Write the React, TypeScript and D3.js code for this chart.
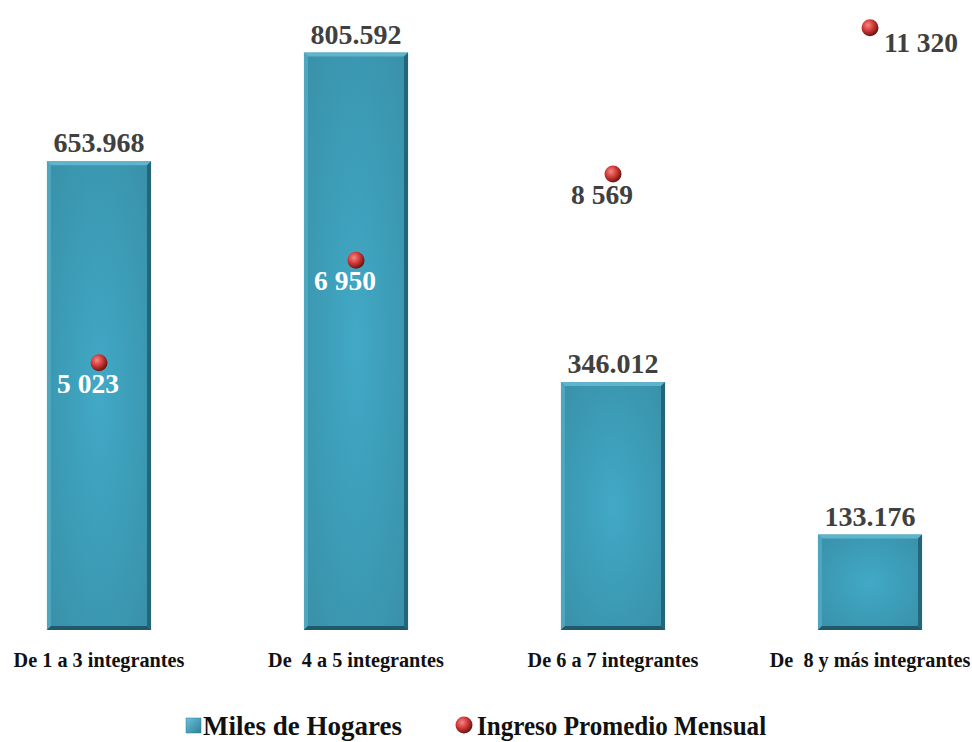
import React from "react";
import * as d3 from "d3";

const categories = ["De 1 a 3 integrantes", "De  4 a 5 integrantes", "De 6 a 7 integrantes", "De  8 y más integrantes"];
const hogares = [653.968, 805.592, 346.012, 133.176];
const hogaresLabels = ["653.968", "805.592", "346.012", "133.176"];
const ingreso = [5023, 6950, 8569, 11320];
const ingresoLabels = ["5 023", "6 950", "8 569", "11 320"];
const seriesNames = ["Miles de Hogares", "Ingreso Promedio Mensual"];

const W = 972;
const H = 742;
const font = "'Liberation Serif', 'Times New Roman', serif";

export default function App() {
  const x = d3
    .scaleBand<string>()
    .domain(categories)
    .range([-29.5, 998.5])
    .paddingInner(0.595)
    .paddingOuter(0.2975);
  const y = d3.scaleLinear().domain([0, 879]).range([630, 0]);
  const y2 = d3.scaleLinear().domain([0, 11840]).range([630, 0]);
  const bw = x.bandwidth();
  const bev = 4;

  return (
    <svg
      width={W}
      height={H}
      style={{ position: "absolute", left: 0, top: 0, background: "#fff" }}
      fontFamily={font}
    >
      <defs>
        <radialGradient id="barBody" cx="0.5" cy="0.5" r="0.7">
          <stop offset="0" stopColor="#41a9c6" />
          <stop offset="1" stopColor="#3990a8" />
        </radialGradient>
        <radialGradient id="sphere" cx="0.38" cy="0.35" r="0.65">
          <stop offset="0" stopColor="#f08a8a" />
          <stop offset="0.45" stopColor="#d9423f" />
          <stop offset="0.85" stopColor="#8e1f1d" />
          <stop offset="1" stopColor="#6a1312" />
        </radialGradient>
        <linearGradient id="legSq" x1="0" y1="0" x2="1" y2="1">
          <stop offset="0" stopColor="#6cc3dc" />
          <stop offset="1" stopColor="#2d7f98" />
        </linearGradient>
      </defs>

      {categories.map((c, i) => {
        const x0 = x(c)!;
        const top = y(hogares[i]);
        const bot = y(0);
        const x1 = x0 + bw;
        return (
          <g key={c}>
            <rect x={x0} y={top} width={bw} height={bot - top} fill="url(#barBody)" />
            <polygon points={`${x0},${top} ${x1},${top} ${x1 - bev},${top + bev} ${x0 + bev},${top + bev}`} fill="#5fb4cb" />
            <polygon points={`${x0},${top} ${x0 + bev},${top + bev} ${x0 + bev},${bot - bev} ${x0},${bot}`} fill="#4ea6bf" />
            <polygon points={`${x1},${top} ${x1},${bot} ${x1 - bev},${bot - bev} ${x1 - bev},${top + bev}`} fill="#24657a" />
            <polygon points={`${x0},${bot} ${x1},${bot} ${x1 - bev},${bot - bev} ${x0 + bev},${bot - bev}`} fill="#1f5a6c" />
            <text
              x={x0 + bw / 2}
              y={top - 9}
              textAnchor="middle"
              fontWeight="bold"
              fontSize={28}
              fill="#404040"
            >
              {hogaresLabels[i]}
            </text>
            <g transform={`translate(${x0 + bw / 2},667) scale(0.92,1)`}>
              <text
                x={0}
                y={0}
                textAnchor="middle"
                fontWeight="bold"
                fontSize={22}
                fill="#111"
                style={{ whiteSpace: "pre" }}
              >
                {c}
              </text>
            </g>
          </g>
        );
      })}

      {categories.map((c, i) => {
        const cx = x(c)! + bw / 2;
        const cy = y2(ingreso[i]);
        const last = i === categories.length - 1;
        return (
          <g key={"d" + c}>
            <circle cx={cx} cy={cy} r={8.5} fill="url(#sphere)" />
            <text
              x={last ? cx + 14 : cx - 11}
              y={last ? cy + 24 : cy + 30}
              textAnchor={last ? "start" : "middle"}
              fontWeight="bold"
              fontSize={27.5}
              fill={i < 2 ? "#ffffff" : "#404040"}
            >
              {ingresoLabels[i]}
            </text>
          </g>
        );
      })}

      <rect x={186} y={718} width={15} height={15} fill="url(#legSq)" stroke="#2d7f98" strokeWidth={0.5} />
      <text x={203} y={735} fontWeight="bold" fontSize={27} fill="#111">
        {seriesNames[0]}
      </text>
      <circle cx={464} cy={725} r={8.5} fill="url(#sphere)" />
      <g transform="translate(477,735) scale(0.93,1)">
        <text x={0} y={0} fontWeight="bold" fontSize={27} fill="#111">
          {seriesNames[1]}
        </text>
      </g>
    </svg>
  );
}
